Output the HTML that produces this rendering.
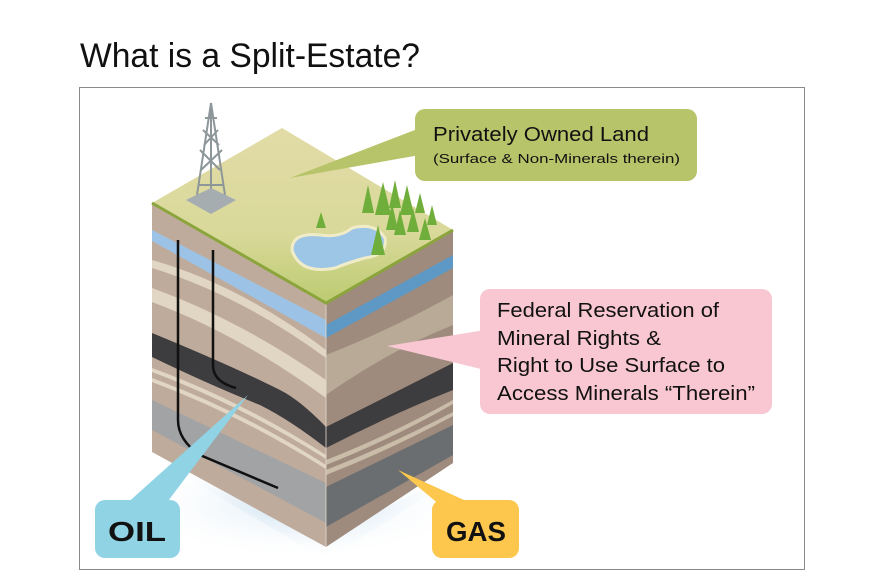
<!DOCTYPE html>
<html><head><meta charset="utf-8"><style>
html,body{margin:0;padding:0;background:#fff;width:883px;height:588px;overflow:hidden}
svg{display:block}
text{font-family:"Liberation Sans",sans-serif}
</style></head><body>
<svg width="883" height="588" viewBox="0 0 883 588" xmlns="http://www.w3.org/2000/svg">
<defs>
<linearGradient id="top" x1="0" y1="0" x2="0" y2="1">
<stop offset="0" stop-color="#e2dba7"/><stop offset="0.6" stop-color="#d9d99a"/><stop offset="1" stop-color="#bccb70"/></linearGradient>
<radialGradient id="sh" cx="0.5" cy="0.5" r="0.5"><stop offset="0" stop-color="#cfe3f1"/><stop offset="1" stop-color="#ffffff" stop-opacity="0"/></radialGradient>
</defs>
<text x="80" y="67" font-size="34" fill="#111" textLength="340" lengthAdjust="spacingAndGlyphs">What is a Split-Estate?</text>
<rect x="79.5" y="87.5" width="725" height="482" fill="none" stroke="#8a8a8a" stroke-width="1"/>
<!-- shadow -->
<polygon points="140,450 326,560 470,468 326,535" fill="url(#sh)"/>
<ellipse cx="300" cy="505" rx="180" ry="55" fill="url(#sh)" opacity="0.7"/>
<!-- left face -->
<polygon points="152,203 326,303 326,547 152,452" fill="#bfab9b"/>
<polygon points="152,230 326,320 326,338 152,241" fill="#9cc3e6"/>
<path d="M152,260 Q240,285 326,350 L326,358 Q240,295 152,268Z" fill="#e1d6c3"/>
<path d="M152,288 Q240,320 326,380 L326,398 Q240,335 152,302Z" fill="#e1d6c3"/>
<path d="M152,333 Q230,365 280,390 Q300,400 326,427 L326,448 Q290,420 260,405 Q210,385 152,357Z" fill="#3d3c3e"/>
<path d="M152,368 Q240,400 326,455 L326,459 Q240,405 152,372Z" fill="#e1d6c3"/>
<path d="M152,378 Q240,410 326,465 L326,469 Q240,415 152,382Z" fill="#e1d6c3"/>
<polygon points="152,400 326,483 326,523 152,430" fill="#a2a3a5"/>
<!-- right face -->
<polygon points="326,303 453,230 453,463 326,547" fill="#9e8b7d"/>
<polygon points="326,325 453,255 453,268 326,338" fill="#5e98c4"/>
<path d="M326,355 Q390,330 453,295 L453,325 Q390,350 326,395Z" fill="#b8aa96"/>
<path d="M326,427 Q390,395 453,363 L453,390 Q390,415 326,448Z" fill="#3d3c3e"/>
<path d="M326,460 Q390,435 453,400 L453,404 Q390,440 326,465Z" fill="#c9bca8"/>
<path d="M326,470 Q390,445 453,412 L453,416 Q390,450 326,475Z" fill="#c9bca8"/>
<polygon points="326,487 453,425 453,455 326,527" fill="#6b6e71"/>
<line x1="326" y1="303" x2="326" y2="547" stroke="#e6ddd0" stroke-width="0.8"/>
<!-- top face -->
<polygon points="152,203 282,128 453,230 326,303" fill="url(#top)"/>
<polyline points="152,203 326,303 453,230" fill="none" stroke="#8ba53c" stroke-width="3"/>
<!-- pond -->
<path d="M292,250 Q292,232 320,235 Q340,238 352,228 Q375,222 385,238 Q388,255 365,258 Q350,262 335,268 Q300,275 292,250Z" fill="#9cc5e6" stroke="#f1ecc8" stroke-width="3"/>
<!-- trees -->
<g fill="#6fae3a">
<polygon points="321,212 316,228 326,228"/><polygon points="368,185 362,213 374,213"/><polygon points="383,182 375,215 391,215"/><polygon points="395,180 389,208 401,208"/><polygon points="407,185 400,215 414,215"/><polygon points="420,193 415,213 425,213"/><polygon points="432,205 427,225 437,225"/><polygon points="392,203 386,230 398,230"/><polygon points="413,208 407,232 419,232"/><polygon points="425,218 419,240 431,240"/><polygon points="378,225 371,255 385,255"/><polygon points="400,210 394,235 406,235"/>
</g>
<!-- derrick -->
<g stroke="#8d9699" stroke-width="2" fill="none">
<polyline points="197,195 211,103 225,195"/>
<line x1="211" y1="103" x2="211" y2="210"/>
<path d="M201,170 L222,150 M200,150 L220,170 M203,130 L219,145 M218,130 L204,145 M198,185 L224,185 M205,118 L217,118"/>
</g>
<polygon points="186,200 211,188 236,200 211,214" fill="#a6adb0"/>
<!-- wells -->
<path d="M178,240 L178,420 Q178,440 200,455 L278,488" fill="none" stroke="#111" stroke-width="2.5"/>
<path d="M213,250 L213,365 Q213,382 236,388" fill="none" stroke="#111" stroke-width="2.5"/>
<!-- callouts -->
<polygon points="290,178 420,128 420,155" fill="#b8c46a"/>
<rect x="415" y="109" width="282" height="72" rx="10" fill="#b8c46a"/>
<text x="433" y="141" font-size="20" fill="#111" textLength="216" lengthAdjust="spacingAndGlyphs">Privately Owned Land</text>
<text x="433" y="163" font-size="13" fill="#111" textLength="247" lengthAdjust="spacingAndGlyphs">(Surface &amp; Non-Minerals therein)</text>
<polygon points="387,346 485,330 485,370" fill="#f8c7d2"/>
<rect x="480" y="289" width="292" height="125" rx="10" fill="#f8c7d2"/>
<g font-size="20" fill="#111">
<text x="497" y="317" textLength="222" lengthAdjust="spacingAndGlyphs">Federal Reservation of</text>
<text x="497" y="345" textLength="164" lengthAdjust="spacingAndGlyphs">Mineral Rights &amp;</text>
<text x="497" y="372" textLength="228" lengthAdjust="spacingAndGlyphs">Right to Use Surface to</text>
<text x="497" y="400" textLength="258" lengthAdjust="spacingAndGlyphs">Access Minerals “Therein”</text>
</g>
<polygon points="248,395 125,505 165,505" fill="#8fd3e4"/>
<rect x="95" y="500" width="85" height="58" rx="10" fill="#8fd3e4"/>
<text x="108" y="541" font-size="28" font-weight="bold" fill="#111" textLength="58" lengthAdjust="spacingAndGlyphs">OIL</text>
<polygon points="398,470 440,505 475,505" fill="#fcc74c"/>
<rect x="432" y="500" width="87" height="58" rx="10" fill="#fcc74c"/>
<text x="446" y="541" font-size="28" font-weight="bold" fill="#111" textLength="60" lengthAdjust="spacingAndGlyphs">GAS</text>
</svg>
</body></html>
